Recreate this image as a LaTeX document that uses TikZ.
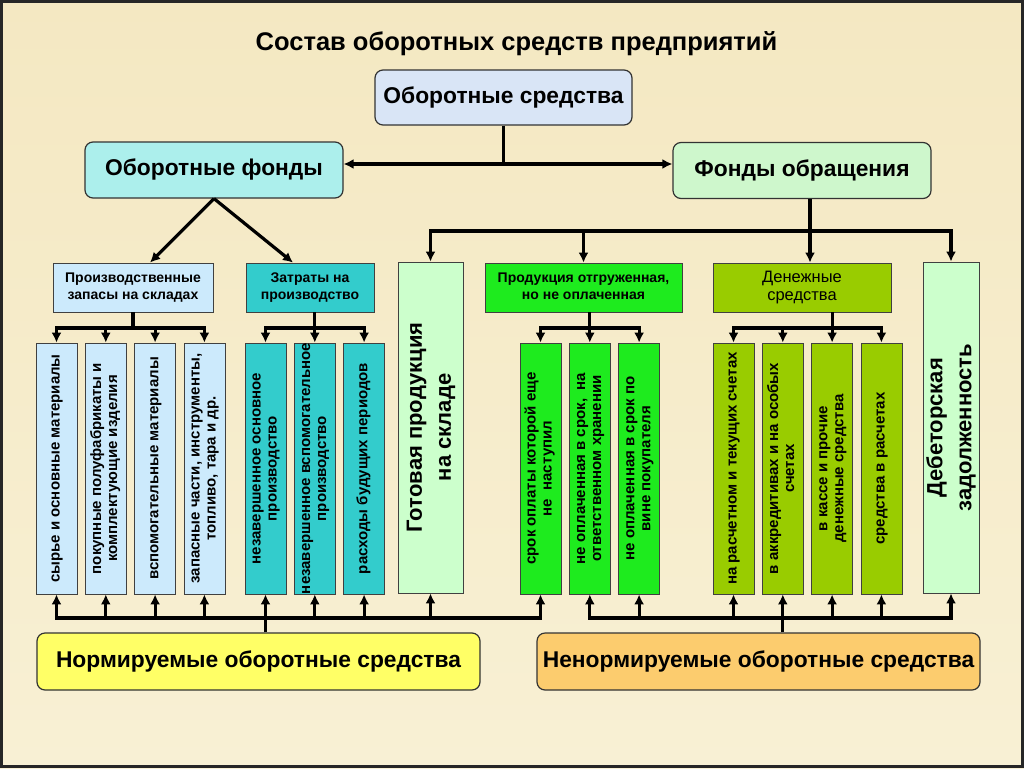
\documentclass[tikz,border=0pt]{standalone}
\usepackage{fontspec}
\setmainfont{Liberation Sans}
\usepackage{graphicx}
\usetikzlibrary{positioning}
\usetikzlibrary{arrows.meta}
\usetikzlibrary{calc}

\definecolor{fon}{RGB}{244,232,194}
\definecolor{fonhell}{RGB}{248,240,212}
\definecolor{csred}{RGB}{217,229,246}
\definecolor{cfond}{RGB}{172,239,236}
\definecolor{cobr}{RGB}{206,247,204}
\definecolor{cblue}{RGB}{204,234,252}
\definecolor{cteal}{RGB}{51,204,204}
\definecolor{cpale}{RGB}{204,255,204}
\definecolor{cgreen}{RGB}{30,235,30}
\definecolor{colive}{RGB}{153,204,0}
\definecolor{cyellow}{RGB}{255,255,102}
\definecolor{corange}{RGB}{252,204,110}

% rotated text, centred, taking no room in the node
\newcommand{\vtext}[1]{\makebox[0pt]{\raisebox{-0.5\height}[0pt][0pt]{\rotatebox{90}{\begin{tabular}{@{}c@{}}#1\end{tabular}}}}}

\tikzstyle{mainbox} = [draw=black!80, line width=1.2pt, rounded corners=8pt, minimum width=258pt, minimum height=56pt, font=\fontsize{22.8}{26}\selectfont\bfseries]
\tikzstyle{groupbox} = [draw=black!75, line width=0.8pt, minimum height=49pt, inner sep=0pt, font=\fontsize{14}{17}\selectfont\bfseries]
\tikzstyle{itembox} = [draw=black!75, line width=0.8pt, minimum width=41pt, minimum height=251pt, inner sep=0pt, font=\fontsize{15}{16}\selectfont\bfseries]
\tikzstyle{bigitem} = [draw=black!75, line width=0.8pt, fill=cpale, minimum height=331pt, inner sep=0pt, font=\fontsize{22}{29}\selectfont\bfseries]
\tikzstyle{conn} = [line width=3.2pt]

\begin{document}
\begin{tikzpicture}[x=1pt, y=-1pt, >={Latex[length=10pt,width=10pt]}]
  \useasboundingbox (0,0) rectangle (1024,768);
  \shade[top color=fon, bottom color=fonhell] (0,0) rectangle (1024,768);
  \draw[black!85, line width=3pt] (1.5,1.5) rectangle (1022.5,766.5);

  \node[font=\fontsize{25.5}{30}\selectfont\bfseries, anchor=base] (titel) at (516.5,50) {Состав оборотных средств предприятий};

  \node[mainbox, fill=csred, minimum width=257pt, minimum height=55pt] (sredstva) at (503.5,97.5) {Оборотные средства};
  \node[mainbox, fill=cfond] (fondy) at (214,170) {Оборотные фонды};
  \node[mainbox, fill=cobr] (obrash) at (802,170.5) {Фонды обращения};

  \node[groupbox, fill=cblue, minimum width=160pt] (zapasy) at (133,287.5)
  {\begin{tabular}{c}Производственные\\запасы на складах\end{tabular}};
  \node[groupbox, fill=cteal, minimum width=128pt] (zatraty) at (310,287.5)
  {\begin{tabular}{c}Затраты на\\производство\end{tabular}};
  \node[bigitem, minimum width=65pt] (gotovaya) at (430.5,427.5) {\vtext{Готовая продукция\\на складе}};
  \node[groupbox, fill=cgreen, minimum width=197pt] (otgr) at (583.5,287.5)
  {\begin{tabular}{c}Продукция отгруженная,\\но не оплаченная\end{tabular}};
  \node[groupbox, fill=colive, minimum width=178pt, font=\fontsize{16.5}{18}\selectfont] (dengi) at (802,287.5)
  {\begin{tabular}{c}Денежные\\средства\end{tabular}};
  \node[bigitem, minimum width=56pt] (debitor) at (951,427.5) {\vtext{Дебеторская\\задолженность}};

  \node[itembox, fill=cblue] (syrye) at (56.5,468.5) {\vtext{сырье и основные материалы}};
  \node[itembox, fill=cblue, right=7.5pt of syrye] (polufabr) {\vtext{покупные полуфабрикаты и\\комплектующие изделия}};
  \node[itembox, fill=cblue, right=7.5pt of polufabr] (vspomog) {\vtext{вспомогательные материалы}};
  \node[itembox, fill=cblue, right=7.5pt of vspomog] (zapchasti) {\vtext{запасные части, инструменты,\\топливо, тара и др.}};
  \node[itembox, fill=cteal] (nzpOsn) at (265.5,468.5) {\vtext{незавершенное основное\\производство}};
  \node[itembox, fill=cteal, right=7.5pt of nzpOsn] (nzpVsp) {\vtext{незавершенное вспомогательное\\производство}};
  \node[itembox, fill=cteal, right=7.5pt of nzpVsp] (rbp) {\vtext{расходы будущих периодов}};
  \node[itembox, fill=cgreen] (neNastupil) at (540.5,468.5) {\vtext{срок оплаты которой еще\\не~ наступил}};
  \node[itembox, fill=cgreen, right=7.5pt of neNastupil] (hranenie) {\vtext{не оплаченная в срок,~ на\\ответственном хранении}};
  \node[itembox, fill=cgreen, right=7.5pt of hranenie] (pokupatel) {\vtext{не оплаченная в срок по\\вине покупателя}};
  \node[itembox, fill=colive] (raschet) at (733.5,468.5) {\vtext{на расчетном и текущих счетах}};
  \node[itembox, fill=colive, right=7.5pt of raschet] (akkred) {\vtext{в аккредитивах и на особых\\счетах}};
  \node[itembox, fill=colive, right=7.5pt of akkred] (kassa) {\vtext{в кассе и прочие\\денежные средства}};
  \node[itembox, fill=colive, right=7.5pt of kassa] (vraschetah) {\vtext{средства в расчетах}};

  \node[mainbox, fill=cyellow, minimum width=443pt, minimum height=57pt] (norm) at (258.5,661.5) {Нормируемые оборотные средства};
  \node[mainbox, fill=corange, minimum width=443pt, minimum height=57pt] (nenorm) at (758.5,661.5) {Ненормируемые оборотные средства};

  \coordinate (verh) at (0,164);
  \coordinate (shina) at (0,231);
  \coordinate (podshina) at (0,328);
  \coordinate (niz) at (0,618);

  % top level
  \draw[conn] (sredstva) -- (sredstva.south |- verh);
  \draw[conn, <->] (fondy.east |- verh) -- (obrash.west |- verh);
  \draw[conn, ->] (fondy.south) -- ([xshift=17pt]zapasy.north);
  \draw[conn, ->] (fondy.south) -- ([xshift=-17pt]zatraty.north);
  \draw[conn, ->] ([xshift=8pt]obrash.south) -- ([xshift=8pt]dengi.north);
  \draw[conn, <->] (debitor.north) |- (gotovaya.north |- shina) -- (gotovaya.north);
  \draw[conn, ->] (otgr.north |- shina) -- (otgr.north);

  % groups
  \draw[conn] (zapasy) -- (zapasy.south |- podshina);
  \draw[conn, <->] (syrye.north) |- (zapchasti.north |- podshina) -- (zapchasti.north);
  \draw[conn, ->] (polufabr.north |- podshina) -- (polufabr.north);
  \draw[conn, ->] (vspomog.north |- podshina) -- (vspomog.north);
  \draw[conn, ->] (zatraty.south -| nzpVsp) -- (nzpVsp.north);
  \draw[conn, <->] (nzpOsn.north) |- (rbp.north |- podshina) -- (rbp.north);
  \draw[conn, ->] (otgr.south -| hranenie) -- (hranenie.north);
  \draw[conn, <->] (neNastupil.north) |- (pokupatel.north |- podshina) -- (pokupatel.north);
  \draw[conn, ->] (dengi.south -| kassa) -- (kassa.north);
  \draw[conn, <->] (raschet.north) |- (vraschetah.north |- podshina) -- (vraschetah.north);
  \draw[conn, ->] (akkred.north |- podshina) -- (akkred.north);

  % normed / not normed
  \draw[conn, ->] (norm.north -| nzpOsn) -- (nzpOsn.south);
  \draw[conn, <->] (syrye.south) |- (neNastupil.south |- niz) -- (neNastupil.south);
  \draw[conn, ->] (polufabr.south |- niz) -- (polufabr.south);
  \draw[conn, ->] (vspomog.south |- niz) -- (vspomog.south);
  \draw[conn, ->] (zapchasti.south |- niz) -- (zapchasti.south);
  \draw[conn, ->] (nzpVsp.south |- niz) -- (nzpVsp.south);
  \draw[conn, ->] (rbp.south |- niz) -- (rbp.south);
  \draw[conn, ->] (gotovaya.south |- niz) -- (gotovaya.south);
  \draw[conn, ->] (nenorm.north -| akkred) -- (akkred.south);
  \draw[conn, <->] (hranenie.south) |- (debitor.south |- niz) -- (debitor.south);
  \draw[conn, ->] (pokupatel.south |- niz) -- (pokupatel.south);
  \draw[conn, ->] (raschet.south |- niz) -- (raschet.south);
  \draw[conn, ->] (kassa.south |- niz) -- (kassa.south);
  \draw[conn, ->] (vraschetah.south |- niz) -- (vraschetah.south);
\end{tikzpicture}
\end{document}
